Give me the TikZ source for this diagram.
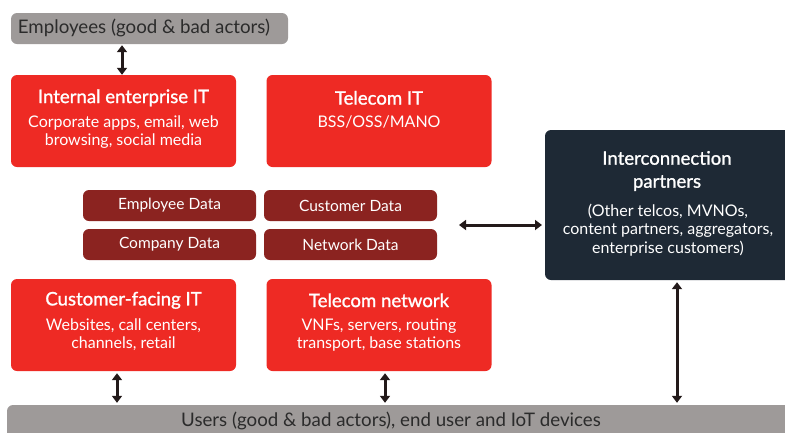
\documentclass[tikz,border=0pt]{standalone}
\usepackage{fontspec}
\setmainfont{Lato}
\newfontfamily\headfont{Lato}[FakeBold=1.2]
\usetikzlibrary{arrows.meta,calc}
\definecolor{brightred}{HTML}{EE2A24}
\definecolor{darkred}{HTML}{8B2320}
\definecolor{navy}{HTML}{1E2935}
\definecolor{bargray}{HTML}{9E9A99}
\definecolor{bartext}{HTML}{2B2B2B}
\definecolor{arrowink}{HTML}{231A1A}
\tikzset{
  panel/.style={rectangle, rounded corners=6pt, inner sep=0pt, draw=none},
  redbox/.style={panel, fill=brightred, minimum width=225pt, minimum height=92pt},
  databox/.style={panel, fill=darkred, minimum width=173pt, minimum height=31pt,
    text=white, font=\fontsize{15.5}{17}\selectfont},
  titletext/.style={text=white, align=center, font=\headfont\fontsize{18.6}{23}\selectfont, inner sep=0pt},
  bodytext/.style={text=white, align=center, font=\fontsize{16}{18.5}\selectfont, inner sep=0pt},
  bartextstyle/.style={text=bartext, font=\fontsize{18.7}{20}\selectfont, inner sep=0pt},
  link/.style={draw=arrowink, line width=3pt, {Triangle[length=7pt,width=10pt]}-{Triangle[length=7pt,width=10pt]}}
}
\begin{document}
\begin{tikzpicture}[x=1pt,y=-1pt]
\clip (0,0) rectangle (785,432);
\useasboundingbox (0,0) rectangle (785,432);

% grey bars for people and devices
\node[panel, fill=bargray, minimum width=277pt, minimum height=31pt] (emp) at (149.5,28.5) {};
\node[bartextstyle] at (144,28) {Employees (good \& bad actors)};
\node[panel, fill=bargray, minimum width=800pt, minimum height=40pt] (users) at (407,425) {};
\node[bartextstyle] at (391,421) {Users (good \& bad actors), end user and IoT devices};

% red system boxes
\node[redbox] (ient) at (123.5,121) {};
\node[titletext] at ($(ient.north)+(0,23)$) {Internal enterprise IT};
\node[bodytext] at ($(ient.north)+(0,57.5)$) {Corporate apps, email, web\\browsing, social media};

\node[redbox] (tit) at (379,121) {};
\node[titletext] at ($(tit.north)+(0,23)$) {Telecom IT};
\node[bodytext] at ($(tit.north)+(0,47.5)$) {BSS/OSS/MANO};

\node[redbox] (cfit) at (123.5,325) {};
\node[titletext] at ($(cfit.north)+(0,21.5)$) {Customer-facing IT};
\node[bodytext] at ($(cfit.north)+(0,56)$) {Websites, call centers,\\channels, retail};

\node[redbox] (tnet) at (379,325) {};
\node[titletext] at ($(tnet.north)+(0,21.5)$) {Telecom network};
\node[bodytext] at ($(tnet.north)+(0,56)$) {VNFs, servers, routing\\transport, base stations};

% data stores
\node[databox] (edata) at (169.5,205.5) {Employee Data};
\node[databox] (cdata) at (350.5,205.5) {Customer Data};
\node[databox] (codata) at (169.5,244.5) {Company Data};
\node[databox] (ndata) at (350.5,244.5) {Network Data};

% interconnection partners
\node[panel, fill=navy, minimum width=250pt, minimum height=150pt] (icp) at (670,205) {};
\node[titletext] at (667,171) {Interconnection\\partners};
\node[bodytext] at (668,230) {(Other telcos, MVNOs,\\content partners, aggregators,\\enterprise customers)};

% links
\coordinate (hl) at (459,225);
\coordinate (hr) at (542,225);
\draw[link] (hl) -- (hr);
\draw[link] (emp.south -| 122,0) ++(0,1) -- (ient.north -| 122,0);
\draw[link] (cfit.south -| 117,0) ++(0,2) -- ($(users.north -| 117,0)+(0,-2)$);
\draw[link] (tnet.south -| 385,0) ++(0,2) -- ($(users.north -| 385,0)+(0,-2)$);
\draw[link] (icp.south -| 677,0) ++(0,2) -- ($(users.north -| 677,0)+(0,-2)$);
\end{tikzpicture}
\end{document}
